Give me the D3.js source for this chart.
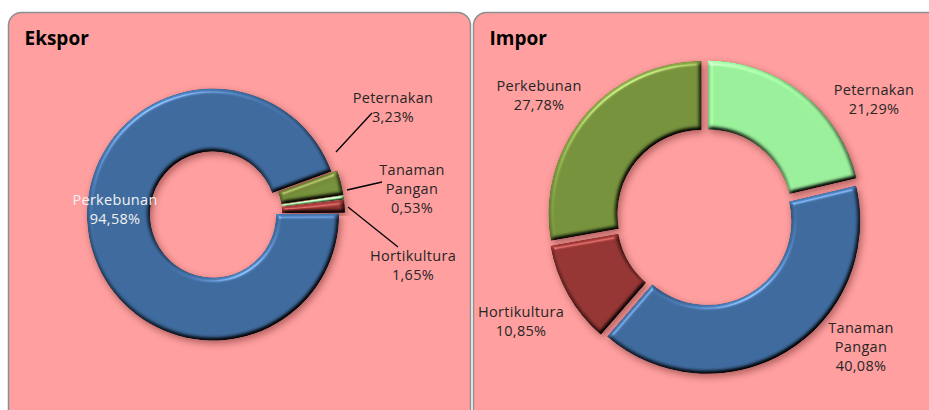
<!DOCTYPE html>
<html>
<head>
<meta charset="utf-8">
<script src="https://cdn.jsdelivr.net/npm/d3@7"></script>
<style>
  body { margin: 0; background: #fff; }
  svg { display: block; }
</style>
</head>
<body>
<div id="chart"></div>
<script>
// same category order for both charts (clockwise from the first slice)
let categories = ["Peternakan", "Tanaman Pangan", "Hortikultura", "Perkebunan"];
let eksporValues = [3.23, 0.53, 1.65, 94.58];
let imporValues = [21.29, 40.08, 10.85, 27.78];

let eksporColors = ["#77933c", "#9cf29c", "#963634", "#3f6b9f"];
let imporColors = ["#9cf29c", "#3f6b9f", "#963634", "#77933c"];

let svgW = 929;
let svgH = 410;

let svg = d3.select("#chart")
  .append("svg")
  .attr("width", svgW)
  .attr("height", svgH)
  .style("font-family", "'Open Sans', 'Noto Sans', sans-serif")

// bevel + drop shadow for the slices
let defs = svg.append("defs")
let f = defs.append("filter")
  .attr("id", "bevel")
  .attr("x", "-20%").attr("y", "-20%")
  .attr("width", "140%").attr("height", "140%")
  .attr("color-interpolation-filters", "sRGB")

f.append("feGaussianBlur").attr("in", "SourceAlpha").attr("stdDeviation", 2.2).attr("result", "b")
f.append("feSpecularLighting")
  .attr("in", "b").attr("surfaceScale", 4).attr("specularConstant", 0.8)
  .attr("specularExponent", 30).attr("lighting-color", "#ffffff").attr("result", "s")
  .append("feDistantLight").attr("azimuth", 240).attr("elevation", 35)
f.append("feComposite").attr("in", "s").attr("in2", "SourceAlpha").attr("operator", "in").attr("result", "s2")
f.append("feDiffuseLighting")
  .attr("in", "b").attr("surfaceScale", 4).attr("diffuseConstant", 1)
  .attr("lighting-color", "#ffffff").attr("result", "d")
  .append("feDistantLight").attr("azimuth", 240).attr("elevation", 55)
f.append("feComposite").attr("in", "SourceGraphic").attr("in2", "d")
  .attr("operator", "arithmetic").attr("k1", 1.2).attr("result", "shade")
f.append("feComposite").attr("in", "shade").attr("in2", "SourceAlpha").attr("operator", "in").attr("result", "shade2")
f.append("feComposite").attr("in", "s2").attr("in2", "shade2")
  .attr("operator", "arithmetic").attr("k2", 0.35).attr("k3", 1).attr("result", "lit")
f.append("feGaussianBlur").attr("in", "SourceAlpha").attr("stdDeviation", 3.5).attr("result", "sb")
f.append("feOffset").attr("in", "sb").attr("dx", 2).attr("dy", 3).attr("result", "so")
f.append("feFlood").attr("flood-color", "#3a0000").attr("flood-opacity", 0.4)
f.append("feComposite").attr("in2", "so").attr("operator", "in").attr("result", "shadow")
let merge = f.append("feMerge")
merge.append("feMergeNode").attr("in", "shadow")
merge.append("feMergeNode").attr("in", "lit")

let fmt = v => d3.format(".2f")(v).replace(".", ",")

// label placement relative to the donut centre (first line baseline)
let eksporLabels = [
  { x: 177, y: -111, lines: ["Peternakan"], leader: [120, -62, 156, -101] },
  { x: 196, y: -39, lines: ["Tanaman", "Pangan"], leader: [131, -24, 166, -32] },
  { x: 197, y: 47, lines: ["Hortikultura"], leader: [132, -7, 182, 33] },
  { x: -101, y: -9, lines: ["Perkebunan"], color: "#f2f2f2" }
]
let imporLabels = [
  { x: 169, y: -122, lines: ["Peternakan"] },
  { x: 156, y: 116, lines: ["Tanaman", "Pangan"] },
  { x: -184, y: 100, lines: ["Hortikultura"] },
  { x: -166, y: -126, lines: ["Perkebunan"] }
]

let panels = [
  { title: "Ekspor", x: 8.5, w: 462, cx: 216, cy: 214, outer: 126, inner: 63, start: 70, explode: 3,
    values: eksporValues, colors: eksporColors, labels: eksporLabels },
  { title: "Impor", x: 473.5, w: 470, cx: 705, cy: 217, outer: 153, inner: 84, start: 0, explode: 4.5,
    values: imporValues, colors: imporColors, labels: imporLabels }
]

panels.forEach(p => {
  let g = svg.append("g")

  g.append("rect")
    .attr("x", p.x)
    .attr("y", 12.5)
    .attr("width", p.w)
    .attr("height", 430)
    .attr("rx", 13)
    .attr("fill", "#ff9f9f")
    .attr("stroke", "#8e8e8e")
    .attr("stroke-width", 1.5)

  g.append("text")
    .attr("x", p.x + 16)
    .attr("y", 45)
    .attr("font-size", 19)
    .attr("font-weight", "bold")
    .attr("fill", "#000")
    .text(p.title)

  let a0 = p.start * Math.PI / 180
  let pie = d3.pie().sort(null).value(d => d).startAngle(a0).endAngle(a0 + 2 * Math.PI)
  let arc = d3.arc().innerRadius(p.inner).outerRadius(p.outer)
  let arcs = pie(p.values)

  let chart = g.append("g")
    .attr("transform", `translate(${p.cx},${p.cy})`)

  chart.selectAll("path")
    .data(arcs)
    .enter()
    .append("path")
    .attr("d", arc)
    .attr("fill", (d, i) => p.colors[i])
    .attr("filter", "url(#bevel)")
    .attr("transform", d => {
      let m = (d.startAngle + d.endAngle) / 2
      return `translate(${p.explode * Math.sin(m)},${-p.explode * Math.cos(m)})`
    })

  p.labels.forEach((l, i) => {
    if (l.leader) {
      chart.append("line")
        .attr("x1", l.leader[0]).attr("y1", l.leader[1])
        .attr("x2", l.leader[2]).attr("y2", l.leader[3])
        .attr("stroke", "#000")
        .attr("stroke-width", 1.3)
    }
    let t = chart.append("text")
      .attr("text-anchor", "middle")
      .attr("font-size", 14.5)
      .attr("letter-spacing", 0.3)
      .attr("fill", l.color || "#262626")
    l.lines.concat([fmt(p.values[i]) + "%"]).forEach((s, j) => {
      t.append("tspan")
        .attr("x", l.x)
        .attr("y", l.y + j * 19)
        .text(s)
    })
  })
})
</script>
</body>
</html>
